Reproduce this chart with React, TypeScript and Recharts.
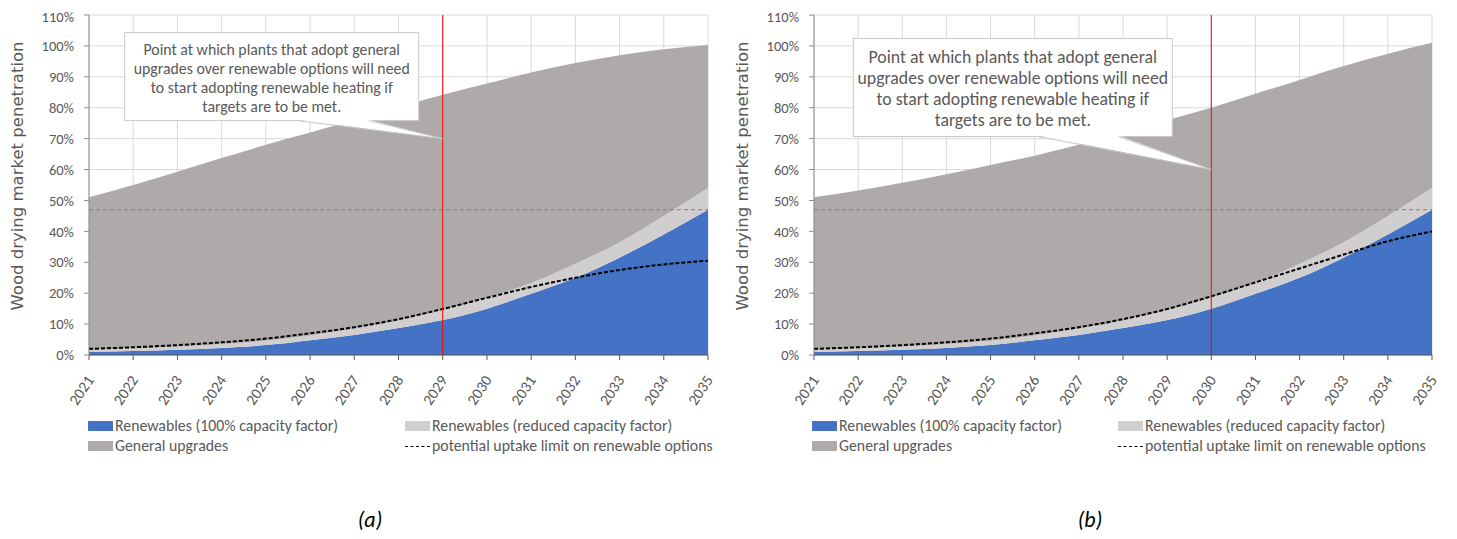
import { ComposedChart, Area, Line, XAxis, YAxis, CartesianGrid, ReferenceLine, ReferenceDot } from "recharts";

const years = [2021, 2022, 2023, 2024, 2025, 2026, 2027, 2028, 2029, 2030, 2031, 2032, 2033, 2034, 2035];
const renewablesFull = [1.0, 1.3, 1.7, 2.3, 3.2, 4.8, 6.5, 8.7, 11.3, 15.0, 19.8, 25.0, 31.5, 39.0, 47.0];
const renewablesReduced = [0.6, 0.8, 1.0, 1.2, 1.4, 1.5, 2.0, 2.5, 3.2, 3.5, 3.5, 4.5, 5.0, 6.0, 7.0];
const upgradesA = [49.4, 52.9, 56.6, 60.2, 63.4, 65.7, 67.5, 69.0, 69.7, 69.3, 68.1, 65.0, 60.5, 53.9, 46.3];
const upgradesB = [49.4, 51.1, 53.0, 55.0, 56.9, 58.2, 59.5, 60.8, 61.5, 61.5, 61.2, 59.5, 57.0, 52.5, 47.0];
const limitA = [2.0, 2.5, 3.2, 4.1, 5.3, 7.0, 9.0, 11.6, 14.9, 18.5, 22.0, 25.0, 27.5, 29.3, 30.5];
const limitB = [2.0, 2.5, 3.2, 4.1, 5.3, 7.0, 9.0, 11.6, 14.9, 19.0, 23.5, 28.0, 32.5, 36.8, 40.0];
const yTicks = [0, 10, 20, 30, 40, 50, 60, 70, 80, 90, 100, 110];
const targetLevel = 47;
const calloutLines = [
  "Point at which plants that adopt general",
  "upgrades over renewable options will need",
  "to start adopting renewable heating if",
  "targets are to be met.",
];
const legendNames = [
  "Renewables (100% capacity factor)",
  "Renewables (reduced capacity factor)",
  "General upgrades",
  "potential uptake limit on renewable options",
];

const FONT = "Carlito, Lato, sans-serif";
const TEXT = "#595959";

const buildRows = (upgrades: number[], limit: number[]) =>
  years.map((year, i) => ({
    year,
    full: renewablesFull[i],
    reduced: renewablesReduced[i],
    upgrades: upgrades[i],
    limit: limit[i],
  }));

const YearTick = ({ x, y, payload }: any) => (
  <g transform={`translate(${x + 1},${y + 12})`}>
    <text x={0} y={0} textAnchor="end" dominantBaseline="central" transform="rotate(-56)" fill={TEXT} fontSize={15.5} fontFamily={FONT}>
      {payload.value}
    </text>
  </g>
);

type CalloutCfg = {
  left: number; right: number; top: number; bottom: number;
  base0: number; base1: number; fontSize: number; firstLine: number; lineGap: number;
};

const Callout = ({ cx, cy, cfg }: { cx: number; cy: number; cfg: CalloutCfg }) => {
  const bx = cx + cfg.left;
  const by = cy + cfg.top;
  const w = cfg.right - cfg.left;
  const h = cfg.bottom - cfg.top;
  const baseY = cy + cfg.bottom;
  const midX = bx + w / 2;
  return (
    <g>
      <rect x={bx} y={by} width={w} height={h} fill="#fff" stroke="#c8c8c8" strokeWidth={1} />
      <polygon points={`${cx + cfg.base0},${baseY - 1} ${cx + cfg.base1},${baseY - 1} ${cx},${cy}`} fill="#fff" />
      <line x1={cx + cfg.base0} y1={baseY} x2={cx} y2={cy} stroke="#c8c8c8" />
      <line x1={cx + cfg.base1} y1={baseY} x2={cx} y2={cy} stroke="#c8c8c8" />
      {calloutLines.map((t, i) => (
        <text key={i} x={midX} y={by + cfg.firstLine + i * cfg.lineGap} textAnchor="middle" dominantBaseline="central"
          fill={TEXT} fontSize={cfg.fontSize} fontFamily={FONT}>
          {t}
        </text>
      ))}
    </g>
  );
};

const Swatch = ({ color, dashed }: { color?: string; dashed?: boolean }) =>
  dashed ? (
    <span style={{ display: "inline-block", width: 25, height: 0, borderTop: "1.5px dashed #000", marginRight: 2, verticalAlign: "middle" }} />
  ) : (
    <span style={{ display: "inline-block", width: 25, height: 10, background: color, marginRight: 2, verticalAlign: "middle" }} />
  );

type PanelProps = {
  left: number; width: number; upgrades: number[]; limit: number[];
  markYear: number; tipValue: number; callout: CalloutCfg;
  legendLeft: number; legendCol2: number; caption: string; captionX: number;
};

const Panel = (p: PanelProps) => {
  const rows = buildRows(p.upgrades, p.limit);
  const legendItem = (i: number, color: string | undefined, dashed: boolean, x: number, y: number) => (
    <div style={{ position: "absolute", left: x, top: y, whiteSpace: "nowrap", fontSize: 15.8, color: TEXT, fontFamily: FONT, lineHeight: "18px" }}>
      <Swatch color={color} dashed={dashed} />
      <span style={{ verticalAlign: "middle" }}>{legendNames[i]}</span>
    </div>
  );
  return (
    <div style={{ position: "absolute", left: p.left, top: 0, width: p.width, height: 530 }}>
      <ComposedChart width={p.width} height={410} data={rows} margin={{ top: 7, right: 20, left: 0, bottom: 0 }}>
        <CartesianGrid stroke="#d9d9d9" />
        <XAxis dataKey="year" type="number" domain={[2021, 2035]} ticks={years} height={63}
          stroke="#595959" tickSize={5} tickMargin={5} tick={<YearTick />} />
        <YAxis domain={[0, 110]} ticks={yTicks} width={81} stroke="#8c8c8c" tickSize={5} tickMargin={10}
          tickFormatter={(v) => `${v}%`} tick={{ fill: TEXT, fontSize: 14.5, fontFamily: FONT }}
          label={{
            content: ({ viewBox }: any) => (
              <text x={9} y={viewBox.y + viewBox.height / 2 - 9} transform={`rotate(-90 9 ${viewBox.y + viewBox.height / 2 - 9})`}
                textAnchor="middle" dominantBaseline="central" fill={TEXT} fontSize={16.5} fontFamily="DejaVu Sans, sans-serif">
                Wood drying market penetration
              </text>
            ),
          }} />
        <Area dataKey="full" stackId="s" type="monotone" fill="#4472c4" stroke="none" fillOpacity={1} isAnimationActive={false} />
        <Area dataKey="reduced" stackId="s" type="monotone" fill="#d0cece" stroke="none" fillOpacity={1} isAnimationActive={false} />
        <Area dataKey="upgrades" stackId="s" type="monotone" fill="#aeaaaa" stroke="none" fillOpacity={1} isAnimationActive={false} />
        <Line dataKey="limit" type="monotone" stroke="#000" strokeWidth={2} strokeDasharray="4 2" dot={false} isAnimationActive={false} />
        <ReferenceLine y={targetLevel} stroke="#7f7f7f" strokeDasharray="4 3" />
        <ReferenceLine x={p.markYear} stroke="#ff0000" strokeWidth={1} />
        <ReferenceDot x={p.markYear} y={p.tipValue} shape={(s: any) => <Callout cx={s.cx} cy={s.cy} cfg={p.callout} />} />
      </ComposedChart>
      {legendItem(0, "#4472c4", false, p.legendLeft, 408)}
      {legendItem(1, "#d0cece", false, p.legendLeft + p.legendCol2, 408)}
      {legendItem(2, "#aeaaaa", false, p.legendLeft, 428)}
      {legendItem(3, undefined, true, p.legendLeft + p.legendCol2, 428)}
      <div style={{ position: "absolute", left: p.captionX - 30, width: 60, top: 498, textAlign: "center", fontStyle: "italic", fontSize: 22, fontFamily: FONT, color: "#000" }}>
        {p.caption}
      </div>
    </div>
  );
};

const App = () => (
  <div style={{ position: "relative", width: 1441, height: 523 }}>
    <Panel left={0} width={720} upgrades={upgradesA} limit={limitA} markYear={2029} tipValue={70}
      callout={{ left: -318, right: -24, top: -106, bottom: -18, base0: -145, base1: -74, fontSize: 15.8, firstLine: 17, lineGap: 19 }}
      legendLeft={80} legendCol2={317} caption="(a)" captionX={362} />
    <Panel left={725} width={719} upgrades={upgradesB} limit={limitB} markYear={2030} tipValue={60}
      callout={{ left: -358, right: -39, top: -131, bottom: -33, base0: -173, base1: -93, fontSize: 17.8, firstLine: 18, lineGap: 21.3 }}
      legendLeft={79} legendCol2={306} caption="(b)" captionX={357} />
  </div>
);

export default App;
